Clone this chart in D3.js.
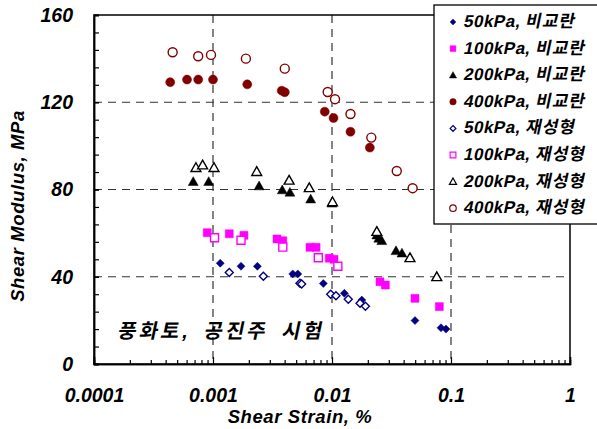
<!DOCTYPE html>
<html>
<head>
<meta charset="utf-8">
<script src="https://cdn.jsdelivr.net/npm/d3@7"></script>
<style>
  html, body { margin: 0; padding: 0; background: #fff; }
  svg { display: block; }
  text { font-family: Arial, "Liberation Sans", "Noto Sans CJK KR", sans-serif; font-weight: bold; font-style: italic; }
  text.slanted { font-style: normal; }
</style>
</head>
<body>
<svg id="chart" width="597" height="429"></svg>
<script>
// Shear modulus vs. shear strain, resonant column tests on weathered soil
const xTickValues = [0.0001, 0.001, 0.01, 0.1, 1];
const xTickLabels = ["0.0001", "0.001", "0.01", "0.1", "1"];
const yTickValues = [0, 40, 80, 120, 160];
const yTickLabels = ["0", "40", "80", "120", "160"];
const xGridValues = [0.001, 0.01, 0.1];
const yGridValues = [40, 80, 120];

const seriesPressures = ["50kPa, ", "100kPa, ", "200kPa, ", "400kPa, ",
                         "50kPa, ", "100kPa, ", "200kPa, ", "400kPa, "];
const seriesStates = ["비교란", "비교란", "비교란", "비교란",
                      "재성형", "재성형", "재성형", "재성형"];

// [shear strain (%), shear modulus (MPa)]
const g50Undisturbed = [[0.00115,46.2],[0.00172,44.8],[0.00236,44.8],[0.00468,41.3],[0.00516,41.3],[0.00845,36.9],[0.0127,32.4],[0.0178,29.3],[0.0498,19.9],[0.0824,16.6],[0.0908,16.0]];
const g100Undisturbed = [[0.000895,60.2],[0.00137,59.7],[0.00182,59.0],[0.00345,57.3],[0.00386,56.5],[0.00653,53.5],[0.00735,53.5],[0.00949,48.5],[0.0104,48.0],[0.0253,37.7],[0.0281,36.2],[0.0498,30.1],[0.0798,26.3]];
const g200Undisturbed = [[0.000682,83.6],[0.00092,83.6],[0.00244,81.6],[0.00382,79.8],[0.00443,78.7],[0.00662,75.6],[0.0100,73.7],[0.0238,59.1],[0.0247,57.6],[0.0262,56.5],[0.0345,51.9],[0.0387,50.8]];
const g400Undisturbed = [[0.000437,129.2],[0.000605,130.4],[0.000751,130.4],[0.001,130.4],[0.00194,128.2],[0.00378,125.3],[0.00401,124.6],[0.00869,115.7],[0.0103,112.8],[0.0143,106.5],[0.0208,99.2]];
const g50Remolded = [[0.00137,42.0],[0.00265,40.2],[0.00538,37.0],[0.00556,36.7],[0.00975,32.0],[0.0108,31.3],[0.0137,29.7],[0.0172,27.8],[0.0191,26.5]];
const g100Remolded = [[0.00103,57.9],[0.00172,56.7],[0.00386,53.6],[0.00767,48.7],[0.0112,44.8]];
const g200Remolded = [[0.000719,90.0],[0.000818,91.2],[0.00102,90.0],[0.00233,88.2],[0.00436,84.2],[0.00644,80.8],[0.0101,74.3],[0.0238,60.7],[0.0452,48.7],[0.0759,40.0]];
const g400Remolded = [[0.000458,142.9],[0.000751,141.1],[0.000962,141.7],[0.00189,140.0],[0.00401,135.4],[0.0092,124.7],[0.0106,121.4],[0.0143,114.6],[0.0214,103.8],[0.035,88.5],[0.0476,80.6]];

const seriesData = [g50Undisturbed, g100Undisturbed, g200Undisturbed, g400Undisturbed,
                    g50Remolded, g100Remolded, g200Remolded, g400Remolded];
const seriesColors = ["#000080", "#ff00ff", "#000000", "#800000",
                      "#000080", "#ff00ff", "#000000", "#800000"];
const seriesFilled = [true, true, true, true, false, false, false, false];

// marker shapes: square-rotated diamond, square, triangle, circle
const diamondShape = { draw(ctx, size) { const r = Math.sqrt(size) / 2; ctx.moveTo(0, -r); ctx.lineTo(r, 0); ctx.lineTo(0, r); ctx.lineTo(-r, 0); ctx.closePath(); } };
const squareShape = { draw(ctx, size) { const r = Math.sqrt(size) / 2; ctx.rect(-r, -r, 2 * r, 2 * r); } };
const triangleShape = { draw(ctx, size) { const r = Math.sqrt(size) / 2; ctx.moveTo(0, -r * 1.1); ctx.lineTo(r * 1.1, r * 0.85); ctx.lineTo(-r * 1.1, r * 0.85); ctx.closePath(); } };
const circleShape = { draw(ctx, size) { const r = Math.sqrt(size) / 2; ctx.moveTo(r, 0); ctx.arc(0, 0, r, 0, 2 * Math.PI); } };
const shapeFor = [diamondShape, squareShape, triangleShape, circleShape];
const markerSide = [8, 8, 9, 9];

const svg = d3.select("#chart");
const plotLeft = 94, plotRight = 570, plotTop = 15, plotBottom = 364;

const x = d3.scaleLog().domain([0.0001, 1]).range([plotLeft, plotRight]);
const y = d3.scaleLinear().domain([0, 160]).range([plotBottom, plotTop]);

// dashed grid
const grid = svg.append("g").attr("stroke", "#333").attr("stroke-width", 1.2).attr("stroke-dasharray", "8,6").attr("fill", "none");
grid.selectAll("line.v").data(xGridValues).join("line").attr("class", "v")
  .attr("x1", d => x(d)).attr("x2", d => x(d)).attr("y1", plotTop).attr("y2", plotBottom);
grid.selectAll("line.h").data(yGridValues).join("line").attr("class", "h")
  .attr("x1", plotLeft).attr("x2", plotRight).attr("y1", d => y(d)).attr("y2", d => y(d));

// frame
svg.append("rect").attr("x", plotLeft).attr("y", plotTop).attr("width", plotRight - plotLeft).attr("height", plotBottom - plotTop)
  .attr("fill", "none").attr("stroke", "#000").attr("stroke-width", 1.5);

// x axis: minor log ticks + labelled decades
const minorX = [];
for (let e = -4; e < 0; e++) for (let m = 2; m <= 9; m++) minorX.push(m * Math.pow(10, e));
const xMinor = svg.append("g").attr("transform", `translate(0,${plotBottom})`)
  .call(d3.axisBottom(x).tickValues(minorX).tickSize(-4).tickFormat(""));
const xMajor = svg.append("g").attr("transform", `translate(0,${plotBottom})`)
  .call(d3.axisBottom(x).tickValues(xTickValues).tickSize(-7).tickPadding(24)
    .tickFormat((d, i) => xTickLabels[i]));
[xMinor, xMajor].forEach(g => {
  g.select(".domain").attr("stroke-width", 1.5);
  g.selectAll(".tick line").attr("stroke-width", 1.2);
});
xMajor.selectAll("text").attr("font-size", 19.5).attr("fill", "#000");

// y axis: minor ticks every 8 MPa, labels every 40
const yMinor = svg.append("g").attr("transform", `translate(${plotLeft},0)`)
  .call(d3.axisLeft(y).tickValues(d3.range(0, 161, 8)).tickSize(-5).tickFormat(""));
const yMajor = svg.append("g").attr("transform", `translate(${plotLeft},0)`)
  .call(d3.axisLeft(y).tickValues(yTickValues).tickSize(-5).tickPadding(21)
    .tickFormat((d, i) => yTickLabels[i]));
[yMinor, yMajor].forEach(g => {
  g.select(".domain").attr("stroke-width", 1.5);
  g.selectAll(".tick line").attr("stroke-width", 1.2);
});
yMajor.selectAll("text").attr("font-size", 19.5).attr("fill", "#000");

// data markers
seriesData.forEach((pts, i) => {
  const k = i % 4;
  const side = markerSide[k];
  const path = d3.symbol().type(shapeFor[k]).size(side * side)();
  svg.append("g").selectAll("path").data(pts).join("path")
    .attr("d", path)
    .attr("transform", d => `translate(${x(d[0])},${y(d[1])})`)
    .attr("fill", seriesFilled[i] ? seriesColors[i] : "#fff")
    .attr("stroke", seriesColors[i])
    .attr("stroke-width", seriesFilled[i] ? 0.5 : 1.4);
});

// axis titles
svg.append("text").attr("x", 300).attr("y", 423).attr("text-anchor", "middle")
  .attr("font-size", 18.5).attr("letter-spacing", 0.6).text("Shear Strain, %");
svg.append("text").attr("transform", "translate(24,206) rotate(-90)").attr("text-anchor", "middle")
  .attr("font-size", 18.5).attr("letter-spacing", 0.6).text("Shear Modulus, MPa");

// Hangul has no italic face, so mixed-script labels are slanted with a skew
function slantedText(parent, px, py) {
  return parent.append("text").attr("class", "slanted")
    .attr("transform", `translate(${px},${py}) skewX(-12)`);
}

// annotation
slantedText(svg, 117, 338).attr("font-size", 20).attr("letter-spacing", 3)
  .attr("word-spacing", 5).text("풍화토, 공진주 시험");

// legend
const legend = svg.append("g");
legend.append("rect").attr("x", 434).attr("y", 5).attr("width", 170).attr("height", 219)
  .attr("fill", "#fff").attr("stroke", "#000").attr("stroke-width", 1.3);
seriesPressures.forEach((p, i) => {
  const k = i % 4;
  const cy = 22 + i * 26.6;
  const side = markerSide[k] * 0.72;
  legend.append("path")
    .attr("d", d3.symbol().type(shapeFor[k]).size(side * side)())
    .attr("transform", `translate(453,${cy})`)
    .attr("fill", seriesFilled[i] ? seriesColors[i] : "#fff")
    .attr("stroke", seriesColors[i])
    .attr("stroke-width", seriesFilled[i] ? 0.5 : 1.2);
  const t = slantedText(legend, 463, cy + 5).attr("font-size", 17);
  t.append("tspan").attr("letter-spacing", 0.5).text(p);
  t.append("tspan").attr("letter-spacing", 1).text(seriesStates[i]);
});
</script>
</body>
</html>
